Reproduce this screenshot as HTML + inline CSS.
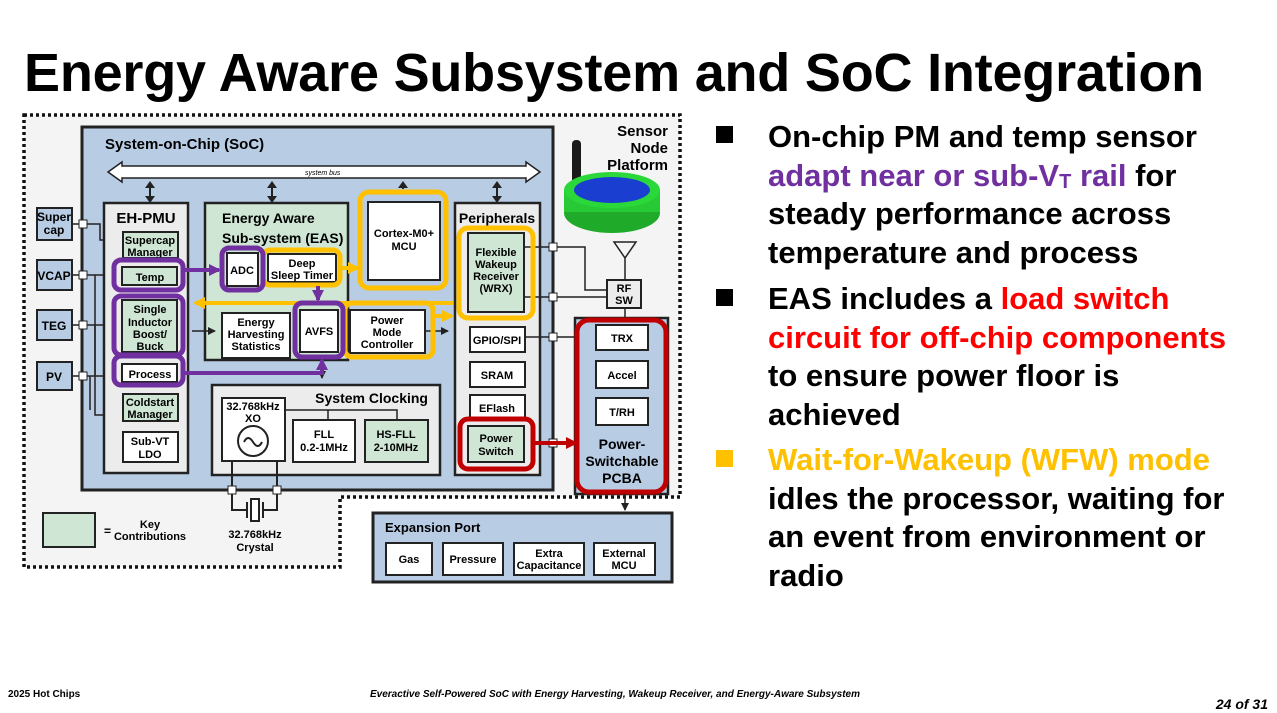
<!DOCTYPE html>
<html><head><meta charset="utf-8"><style>
html,body{margin:0;padding:0;background:#fff;width:1277px;height:713px;overflow:hidden;font-family:"Liberation Sans",sans-serif}
.t{position:absolute;left:24px;top:42px;font-size:54px;font-weight:bold;color:#000;white-space:nowrap;letter-spacing:-0.2px}
.r{position:absolute;left:768px;font-size:31px;font-weight:bold;line-height:38.6px;white-space:nowrap}
.b{position:absolute;left:716px;width:17px;height:17px}
.f{position:absolute;font-size:10px;font-weight:bold;font-style:italic}
sub{font-size:20px;line-height:0;position:relative;top:2px;vertical-align:baseline}
</style></head><body>
<div class="t">Energy Aware Subsystem and SoC Integration</div>
<svg width="1277" height="713" style="position:absolute;left:0;top:0" font-family="Liberation Sans, sans-serif" font-weight="bold">
<defs>
<marker id="ak" markerWidth="8" markerHeight="8" refX="7" refY="4" orient="auto" markerUnits="userSpaceOnUse"><path d="M0,0L8,4L0,8z" fill="#222"/></marker>
<marker id="ap" markerWidth="12" markerHeight="12" refX="10" refY="6" orient="auto" markerUnits="userSpaceOnUse"><path d="M0,0L12,6L0,12z" fill="#7030a0"/></marker>
<marker id="ao" markerWidth="12" markerHeight="12" refX="10" refY="6" orient="auto" markerUnits="userSpaceOnUse"><path d="M0,0L12,6L0,12z" fill="#ffc000"/></marker>
<marker id="ar" markerWidth="12" markerHeight="12" refX="10" refY="6" orient="auto" markerUnits="userSpaceOnUse"><path d="M0,0L12,6L0,12z" fill="#c00000"/></marker>
</defs>
<path d="M24,115H680V497H340V567H24Z" fill="#f4f4f4" stroke="#111" stroke-width="3.5" stroke-dasharray="3,3"/>
<rect x="82" y="127" width="471" height="363" fill="#b8cce4" stroke="#222" stroke-width="3"/>
<text x="105" y="149" font-size="15">System-on-Chip (SoC)</text>
<path d="M108,172L122,162V166H526V162L540,172L526,182V178H122V182Z" fill="#fff" stroke="#222" stroke-width="1.5"/>
<text x="305" y="175" font-size="7" font-style="italic" font-weight="normal">system bus</text>
<g stroke="#222" stroke-width="2"><line x1="150" y1="186" x2="150" y2="199"/><line x1="272" y1="186" x2="272" y2="199"/><line x1="403" y1="186" x2="403" y2="189"/><line x1="497" y1="186" x2="497" y2="199"/></g>
<g fill="#222"><path d="M145,188L150,181L155,188ZM145,196L150,203L155,196Z"/><path d="M267,188L272,181L277,188ZM267,196L272,203L277,196Z"/><path d="M398,188L403,181L408,188Z"/><path d="M492,188L497,181L502,188ZM492,196L497,203L502,196Z"/></g>
<g stroke="#222" stroke-width="2">
<rect x="37" y="208" width="35" height="32" fill="#b8cce4"/><rect x="37" y="260" width="35" height="30" fill="#b8cce4"/><rect x="37" y="310" width="35" height="30" fill="#b8cce4"/><rect x="37" y="362" width="35" height="28" fill="#b8cce4"/></g>
<g font-size="12" text-anchor="middle"><text x="54" y="221">Super</text><text x="54" y="234">cap</text><text x="54" y="280">VCAP</text><text x="54" y="330">TEG</text><text x="54" y="381">PV</text></g>
<g stroke="#222" stroke-width="1.5" fill="none">
<path d="M72,224H100V240H123"/><path d="M72,275H123"/><path d="M72,325H123"/><path d="M72,376H123"/>
<path d="M95,275V415H123"/><path d="M95,325V375"/><path d="M90,376V410"/></g>
<g fill="#fff" stroke="#222" stroke-width="1"><rect x="79" y="220" width="8" height="8"/><rect x="79" y="271" width="8" height="8"/><rect x="79" y="321" width="8" height="8"/><rect x="79" y="372" width="8" height="8"/></g>
<rect x="104" y="203" width="84" height="270" fill="#ececec" stroke="#222" stroke-width="2.5"/>
<text x="146" y="223" font-size="15" text-anchor="middle">EH-PMU</text>
<g stroke="#222" stroke-width="2">
<rect x="123" y="232" width="55" height="26" fill="#cfe6d5"/>
<rect x="122" y="267" width="55" height="18" fill="#cfe6d5"/>
<rect x="122" y="300" width="55" height="52" fill="#cfe6d5"/>
<rect x="122" y="364" width="55" height="18" fill="#fff"/>
<rect x="123" y="394" width="55" height="27" fill="#cfe6d5"/>
<rect x="123" y="432" width="55" height="30" fill="#fff"/></g>
<g font-size="11" text-anchor="middle">
<text x="150" y="244">Supercap</text><text x="150" y="256">Manager</text>
<text x="150" y="281">Temp</text>
<text x="150" y="313">Single</text><text x="150" y="326">Inductor</text><text x="150" y="338">Boost/</text><text x="150" y="350">Buck</text>
<text x="150" y="378">Process</text>
<text x="150" y="406">Coldstart</text><text x="150" y="418">Manager</text>
<text x="150" y="445">Sub-VT</text><text x="150" y="458">LDO</text></g>
<g fill="none" stroke="#7030a0" stroke-width="5">
<rect x="114" y="260" width="69" height="30" rx="7"/><rect x="114" y="296" width="69" height="59" rx="7"/><rect x="114" y="356" width="69" height="29" rx="7"/></g>
<rect x="205" y="203" width="143" height="157" fill="#cfe6d5" stroke="#222" stroke-width="2.5"/>
<text x="222" y="223" font-size="14">Energy Aware</text><text x="222" y="243" font-size="14">Sub-system (EAS)</text>
<g stroke="#222" stroke-width="2" fill="#fff">
<rect x="227" y="253" width="31" height="33"/><rect x="268" y="254" width="68" height="28"/>
<rect x="222" y="313" width="68" height="45"/><rect x="300" y="310" width="38" height="42"/><rect x="350" y="310" width="75" height="43"/></g>
<g font-size="11" text-anchor="middle">
<text x="242" y="274">ADC</text><text x="302" y="267">Deep</text><text x="302" y="279">Sleep Timer</text>
<text x="256" y="326">Energy</text><text x="256" y="338">Harvesting</text><text x="256" y="350">Statistics</text>
<text x="319" y="335">AVFS</text>
<text x="387" y="324">Power</text><text x="387" y="336">Mode</text><text x="387" y="348">Controller</text></g>
<path d="M192,331H215" stroke="#222" stroke-width="1.5" marker-end="url(#ak)"/>
<path d="M425,331H448" stroke="#222" stroke-width="1.5" marker-end="url(#ak)"/>
<rect x="368" y="202" width="72" height="78" fill="#fff" stroke="#222" stroke-width="2"/>
<text x="404" y="237" font-size="11" text-anchor="middle">Cortex-M0+</text><text x="404" y="250" font-size="11" text-anchor="middle">MCU</text>
<rect x="212" y="385" width="228" height="90" fill="#ececec" stroke="#222" stroke-width="2.5"/>
<text x="428" y="403" font-size="14" text-anchor="end">System Clocking</text>
<g stroke="#222" stroke-width="2"><rect x="222" y="398" width="63" height="63" fill="#fff"/><rect x="293" y="420" width="62" height="42" fill="#fff"/><rect x="365" y="420" width="63" height="42" fill="#cfe6d5"/></g>
<path d="M285,410H397V420M328,410V420" stroke="#222" stroke-width="1.5" fill="none"/>
<circle cx="253" cy="441" r="15" fill="none" stroke="#222" stroke-width="2"/>
<path d="M244,442q4,-8 9,0t9,0" fill="none" stroke="#222" stroke-width="2"/>
<g font-size="11" text-anchor="middle"><text x="253" y="410">32.768kHz</text><text x="253" y="422">XO</text>
<text x="324" y="438">FLL</text><text x="324" y="451">0.2-1MHz</text><text x="396" y="438">HS-FLL</text><text x="396" y="451">2-10MHz</text></g>
<path d="M322,360V378" stroke="#222" stroke-width="1.5" marker-end="url(#ak)"/>
<path d="M232,461V510H247M277,461V510H263M247,502V518M263,502V518" stroke="#222" stroke-width="2" fill="none"/>
<rect x="251" y="499" width="8" height="22" fill="#fff" stroke="#222" stroke-width="2"/>
<g fill="#fff" stroke="#222"><rect x="228" y="486" width="8" height="8"/><rect x="273" y="486" width="8" height="8"/></g>
<g font-size="11" text-anchor="middle"><text x="255" y="538">32.768kHz</text><text x="255" y="551">Crystal</text></g>
<rect x="43" y="513" width="52" height="34" fill="#cfe6d5" stroke="#222" stroke-width="2"/>
<text x="104" y="535" font-size="12">=</text>
<text x="150" y="528" font-size="11" text-anchor="middle">Key</text><text x="150" y="540" font-size="11" text-anchor="middle">Contributions</text>
<rect x="455" y="203" width="85" height="272" fill="#ececec" stroke="#222" stroke-width="2.5"/>
<text x="497" y="223" font-size="14" text-anchor="middle">Peripherals</text>
<g stroke="#222" stroke-width="2"><rect x="468" y="233" width="56" height="79" fill="#cfe6d5"/>
<rect x="470" y="327" width="55" height="25" fill="#fff"/><rect x="470" y="362" width="55" height="25" fill="#fff"/><rect x="470" y="395" width="55" height="25" fill="#fff"/><rect x="468" y="426" width="56" height="36" fill="#cfe6d5"/></g>
<g font-size="11" text-anchor="middle"><text x="496" y="256">Flexible</text><text x="496" y="268">Wakeup</text><text x="496" y="280">Receiver</text><text x="496" y="292">(WRX)</text>
<text x="497" y="344">GPIO/SPI</text><text x="497" y="379">SRAM</text><text x="497" y="412">EFlash</text><text x="496" y="442">Power</text><text x="496" y="455">Switch</text></g>
<path d="M524,247H585V290H607M524,297H607M525,337H596M584,337V412H596M584,375H596" stroke="#222" stroke-width="1.5" fill="none"/>
<g fill="#fff" stroke="#222"><rect x="549" y="243" width="8" height="8"/><rect x="549" y="293" width="8" height="8"/><rect x="549" y="333" width="8" height="8"/><rect x="549" y="439" width="8" height="8"/></g>
<rect x="607" y="280" width="34" height="28" fill="#ececec" stroke="#222" stroke-width="2"/>
<text x="624" y="292" font-size="11" text-anchor="middle">RF</text><text x="624" y="304" font-size="11" text-anchor="middle">SW</text>
<path d="M614,242H636L625,258ZM625,258V280M625,308V318" stroke="#222" stroke-width="1.5" fill="none"/>
<rect x="572" y="140" width="9" height="55" rx="4" fill="#1a1a1a"/>
<ellipse cx="612" cy="213" rx="48" ry="20" fill="#1faa2a"/>
<rect x="564" y="190" width="96" height="22" fill="#27c935"/>
<ellipse cx="612" cy="190" rx="48" ry="18" fill="#2bd83a"/>
<ellipse cx="612" cy="190" rx="38" ry="13" fill="#1a3fd0"/>
<g font-size="15" text-anchor="end"><text x="668" y="136">Sensor</text><text x="668" y="153">Node</text><text x="668" y="170">Platform</text></g>
<rect x="575" y="318" width="93" height="176" fill="#b8cce4" stroke="#222" stroke-width="2.5"/>
<g stroke="#222" stroke-width="2" fill="#fff"><rect x="596" y="325" width="52" height="25"/><rect x="596" y="361" width="52" height="27"/><rect x="596" y="398" width="52" height="27"/></g>
<g font-size="11" text-anchor="middle"><text x="622" y="342">TRX</text><text x="622" y="379">Accel</text><text x="622" y="416">T/RH</text></g>
<g font-size="14" text-anchor="middle"><text x="622" y="449">Power-</text><text x="622" y="466">Switchable</text><text x="622" y="483">PCBA</text></g>
<rect x="577" y="320" width="89" height="172" rx="12" fill="none" stroke="#c00000" stroke-width="5"/>
<path d="M625,494V510" stroke="#222" stroke-width="1.5" marker-end="url(#ak)"/>
<rect x="373" y="513" width="299" height="69" fill="#b8cce4" stroke="#222" stroke-width="3"/>
<text x="385" y="532" font-size="13">Expansion Port</text>
<g stroke="#222" stroke-width="2" fill="#fff"><rect x="386" y="543" width="46" height="32"/><rect x="443" y="543" width="60" height="32"/><rect x="514" y="543" width="70" height="32"/><rect x="594" y="543" width="61" height="32"/></g>
<g font-size="11" text-anchor="middle"><text x="409" y="563">Gas</text><text x="473" y="563">Pressure</text><text x="549" y="557">Extra</text><text x="549" y="569">Capacitance</text><text x="624" y="557">External</text><text x="624" y="569">MCU</text></g>
<g fill="none" stroke="#ffc000" stroke-width="5">
<rect x="263" y="250" width="77" height="35" rx="7"/><rect x="360" y="192" width="86" height="96" rx="9"/>
<rect x="345" y="303" width="88" height="54" rx="7"/><rect x="459" y="228" width="74" height="90" rx="9"/></g>
<g stroke="#ffc000" stroke-width="4" fill="none">
<path d="M340,268H358" marker-end="url(#ao)"/><path d="M453,303H195" marker-end="url(#ao)"/>
<path d="M433,316H452" marker-end="url(#ao)"/></g>
<g stroke="#7030a0" stroke-width="4" fill="none">
<path d="M183,270H219" marker-end="url(#ap)"/><path d="M318,286V300" marker-end="url(#ap)"/><path d="M183,373H322V360" marker-end="url(#ap)"/></g>
<g fill="none" stroke="#7030a0" stroke-width="5"><rect x="222" y="248" width="41" height="42" rx="7"/><rect x="295" y="303" width="48" height="54" rx="7"/></g>
<rect x="460" y="419" width="73" height="50" rx="8" fill="none" stroke="#c00000" stroke-width="5"/>
<path d="M533,443H576" stroke="#c00000" stroke-width="4" marker-end="url(#ar)"/>
</svg>
<div class="b" style="top:126px;background:#000"></div>
<div class="r" style="top:118px">On-chip PM and temp sensor<br><span style="color:#7030a0">adapt near or sub-V<sub>T</sub> rail</span> for<br>steady performance across<br>temperature and process</div>
<div class="b" style="top:289px;background:#000"></div>
<div class="r" style="top:280px">EAS includes a <span style="color:#ff0000">load switch</span><br><span style="color:#ff0000">circuit for off-chip components</span><br>to ensure power floor is<br>achieved</div>
<div class="b" style="top:450px;background:#ffc000"></div>
<div class="r" style="top:441px"><span style="color:#ffc000">Wait-for-Wakeup (WFW) mode</span><br>idles the processor, waiting for<br>an event from environment or<br>radio</div>
<div class="f" style="left:8px;top:689px;font-style:normal">2025 Hot Chips</div>
<div class="f" style="left:370px;top:689px">Everactive Self-Powered SoC with Energy Harvesting, Wakeup Receiver, and Energy-Aware Subsystem</div>
<div class="f" style="right:9px;top:696px;font-size:14px">24 of 31</div>
</body></html>
